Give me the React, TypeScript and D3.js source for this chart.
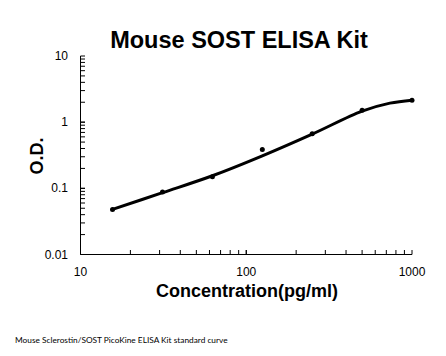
import React from "react";
import * as d3 from "d3";

const title = "Mouse SOST ELISA Kit";
const xLabel = "Concentration(pg/ml)";
const yLabel = "O.D.";
const footer = "Mouse Sclerostin/SOST PicoKine ELISA Kit standard curve";

// standard points
const concentrations = [15.6, 31.25, 62.5, 125, 250, 500, 1000];
const odValues = [0.048, 0.088, 0.15, 0.386, 0.67, 1.52, 2.15];

// fitted curve
const fitConc = [15.6, 31.25, 62.5, 125, 250, 500, 736, 1000];
const fitOD = [0.048, 0.086, 0.155, 0.31, 0.66, 1.47, 1.94, 2.15];

const xTickValues = [10, 100, 1000];
const xTickLabels = ["10", "100", "1000"];
const yTickValues = [0.01, 0.1, 1, 10];
const yTickLabels = ["0.01", "0.1", "1", "10"];

export default function App() {
  const W = 446, H = 356;
  const x = d3.scaleLog().domain([10, 1000]).range([80.5, 412]);
  const y = d3.scaleLog().domain([0.01, 10]).range([254.5, 56]);

  const minorX: number[] = [];
  for (let d = 10; d < 1000; d *= 10) for (let m = 1; m <= 10; m++) minorX.push(d * m);
  const minorY: number[] = [];
  for (let d = 0.01; d < 10; d *= 10) for (let m = 1; m <= 10; m++) minorY.push(+(d * m).toPrecision(3));

  const line = d3
    .line<number>()
    .x((_, i) => x(fitConc[i]))
    .y((v) => y(v))
    .curve(d3.curveCatmullRom.alpha(0.5));

  const font = "'Liberation Sans', Arial, sans-serif";

  return (
    <svg
      width={W}
      height={H}
      style={{ position: "absolute", left: 0, top: 0, background: "#fff" }}
      fontFamily={font}
    >
      <rect width={W} height={H} fill="#fff" />
      <text x={239} y={48} textAnchor="middle" fontSize={23.5} fontWeight="bold" fill="#000">
        {title}
      </text>

      {/* axes */}
      <line x1={80.5} x2={80.5} y1={56} y2={254.5} stroke="#000" strokeWidth={1} />
      <line x1={80.5} x2={412} y1={254.5} y2={254.5} stroke="#000" strokeWidth={1} />
      {minorY.map((v, i) => (
        <line key={"ym" + i} x1={80.5} x2={85} y1={y(v)} y2={y(v)} stroke="#000" strokeWidth={1} />
      ))}
      {minorX.map((v, i) => (
        <line key={"xm" + i} x1={x(v)} x2={x(v)} y1={254.5} y2={250} stroke="#000" strokeWidth={1} />
      ))}
      {yTickValues.map((v, i) => (
        <text key={"yl" + i} x={68} y={y(v) + 4} textAnchor="end" fontSize={12} fill="#000">
          {yTickLabels[i]}
        </text>
      ))}
      {xTickValues.map((v, i) => (
        <text key={"xl" + i} x={x(v)} y={276} textAnchor="middle" fontSize={12} fill="#000">
          {xTickLabels[i]}
        </text>
      ))}

      <text x={247} y={297} textAnchor="middle" fontSize={18} fontWeight="bold" fill="#000">
        {xLabel}
      </text>
      <text
        transform="translate(43,156) rotate(-90)"
        textAnchor="middle"
        fontSize={18}
        fontWeight="bold"
        fill="#000"
      >
        {yLabel}
      </text>

      <path d={line(fitOD) || ""} fill="none" stroke="#000" strokeWidth={3} strokeLinecap="round" />
      {concentrations.map((c, i) => (
        <circle key={"p" + i} cx={x(c)} cy={y(odValues[i])} r={2.5} fill="#000" />
      ))}

      <text x={15} y={343} fontSize={8.3} fill="#000" fontFamily="Lato, 'Open Sans', sans-serif">
        {footer}
      </text>
    </svg>
  );
}
